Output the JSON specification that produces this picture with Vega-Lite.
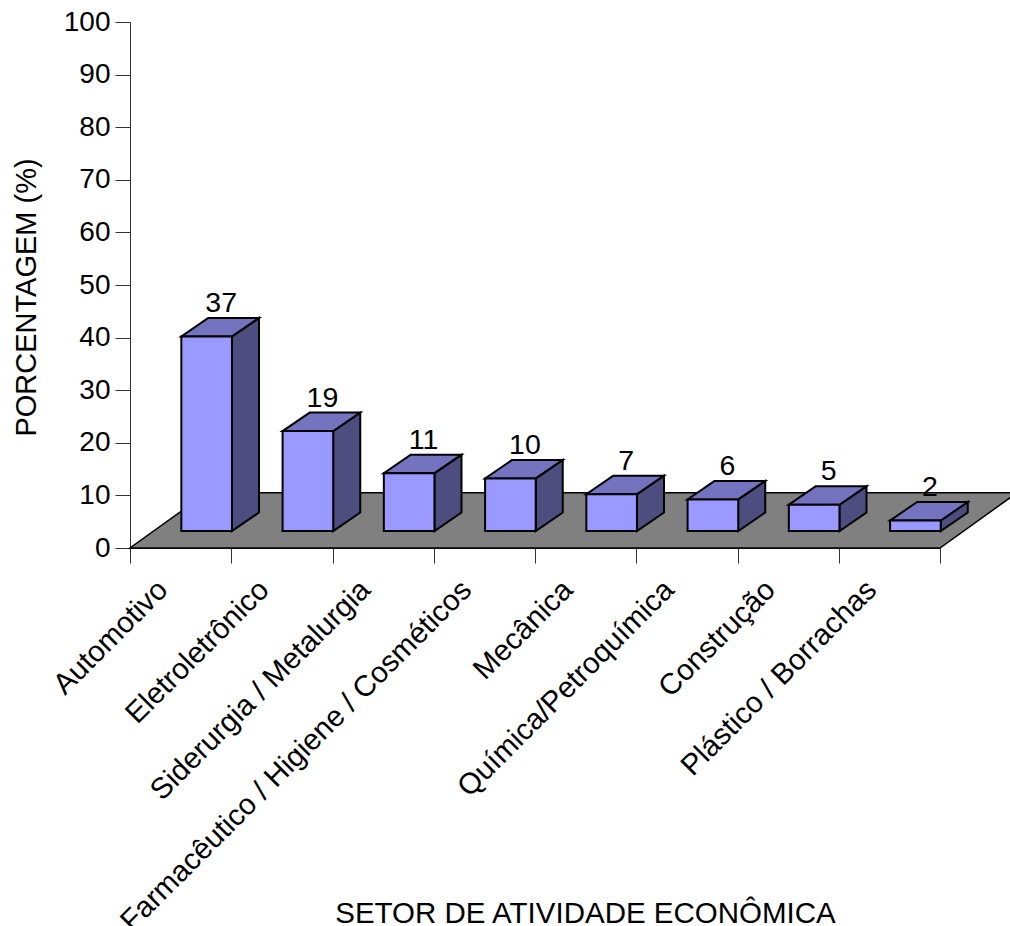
{
  "$schema": "https://vega.github.io/schema/vega-lite/v6.json",
  "width": 810,
  "height": 526,
  "autosize": "none",
  "padding": {"left": 130, "top": 22, "right": 70, "bottom": 378},
  "background": "white",
  "config": {"view": {"stroke": null}, "font": "Liberation Sans"},
  "datasets": {
    "setores": [
      {"setor": "Automotivo", "ordem": 0, "valor": 37},
      {"setor": "Eletroletrônico", "ordem": 1, "valor": 19},
      {"setor": "Siderurgia / Metalurgia", "ordem": 2, "valor": 11},
      {"setor": "Farmacêutico / Higiene / Cosméticos", "ordem": 3, "valor": 10},
      {"setor": "Mecânica", "ordem": 4, "valor": 7},
      {"setor": "Química/Petroquímica", "ordem": 5, "valor": 6},
      {"setor": "Construção", "ordem": 6, "valor": 5},
      {"setor": "Plástico / Borrachas", "ordem": 7, "valor": 2}
    ],
    "piso": [
      {"nivel": 0, "inicio": 0, "fim": 8},
      {"nivel": 10.5, "inicio": 0.76, "fim": 8.76}
    ]
  },
  "resolve": {"scale": {"x": "independent"}, "axis": {"y": "independent"}},
  "layer": [
    {
      "description": "Invisible bars that carry the category and value axes",
      "data": {"name": "setores"},
      "mark": {"type": "bar", "opacity": 0},
      "encoding": {
        "x": {
          "field": "setor", "type": "nominal", "sort": null,
          "scale": {"paddingInner": 0, "paddingOuter": 0},
          "axis": {
            "title": "SETOR DE ATIVIDADE ECONÔMICA",
            "titleFontSize": 29.5, "titleFontWeight": "normal", "titleColor": "#000000",
            "titleX": 455, "titleY": 374, "titleAnchor": "middle", "titleBaseline": "alphabetic",
            "labelAngle": -45, "labelAlign": "right", "labelBaseline": "top",
            "labelFontSize": 29.5, "labelColor": "#000000", "labelLimit": 900, "labelOverlap": false,
            "labelOffset": -28, "labelPadding": 12,
            "tickBand": "extent", "tickSize": 15, "tickColor": "#333333", "domainColor": "#333333", "grid": false
          }
        },
        "y": {
          "field": "valor", "type": "quantitative",
          "scale": {"domain": [0, 100], "nice": false},
          "axis": {
            "title": "PORCENTAGEM (%)",
            "titleFontSize": 29, "titleFontWeight": "normal", "titleColor": "#000000",
            "titleX": -89, "titleY": 275, "titleAnchor": "middle",
            "values": [0, 10, 20, 30, 40, 50, 60, 70, 80, 90, 100],
            "labelFontSize": 28, "labelColor": "#000000", "labelPadding": 5,
            "tickSize": 15, "tickColor": "#333333", "domainColor": "#333333", "grid": false
          }
        }
      }
    },
    {
      "description": "Floor of the 3D plot",
      "data": {"name": "piso"},
      "mark": {"type": "area", "orient": "horizontal", "fill": "#808080", "stroke": "#000000", "strokeWidth": 1.5},
      "encoding": {
        "y": {"field": "nivel", "type": "quantitative", "scale": {"domain": [0, 100], "nice": false}, "axis": null},
        "x": {"field": "inicio", "type": "quantitative", "scale": {"domain": [0, 8]}, "axis": null},
        "x2": {"field": "fim"}
      }
    },
    {
      "description": "Right-hand face of each bar",
      "data": {"name": "setores"},
      "transform": [
        {"calculate": "[0, 1]", "as": "lado"},
        {"flatten": ["lado"]},
        {"calculate": "datum.ordem + 1.007 + datum.lado * 0.267", "as": "xa"},
        {"calculate": "3.23 + datum.lado * 3.52", "as": "base"},
        {"calculate": "datum.base + datum.valor", "as": "topo"}
      ],
      "mark": {"type": "area", "fill": "#4D4D80", "stroke": "#000000", "strokeWidth": 2, "strokeJoin": "miter"},
      "encoding": {
        "x": {"field": "xa", "type": "quantitative", "scale": {"domain": [0, 8]}, "axis": null},
        "y": {"field": "topo", "type": "quantitative", "scale": {"domain": [0, 100], "nice": false}, "axis": null},
        "y2": {"field": "base"},
        "detail": {"field": "setor"}
      }
    },
    {
      "description": "Top face of each bar",
      "data": {"name": "setores"},
      "transform": [
        {"calculate": "[0, 1]", "as": "lado"},
        {"flatten": ["lado"]},
        {"calculate": "datum.ordem + 0.507 + datum.lado * 0.267", "as": "xa"},
        {"calculate": "datum.xa + 0.5", "as": "xb"},
        {"calculate": "datum.valor + 3.23 + datum.lado * 3.52", "as": "topo"}
      ],
      "mark": {"type": "area", "orient": "horizontal", "fill": "#7373BF", "stroke": "#000000", "strokeWidth": 2, "strokeJoin": "miter"},
      "encoding": {
        "y": {"field": "topo", "type": "quantitative", "scale": {"domain": [0, 100], "nice": false}, "axis": null},
        "x": {"field": "xa", "type": "quantitative", "scale": {"domain": [0, 8]}, "axis": null},
        "x2": {"field": "xb"},
        "detail": {"field": "setor"}
      }
    },
    {
      "description": "Front face of each bar",
      "data": {"name": "setores"},
      "transform": [
        {"calculate": "datum.ordem + 0.507", "as": "xa"},
        {"calculate": "datum.ordem + 1.007", "as": "xb"},
        {"calculate": "datum.valor + 3.23", "as": "topo"},
        {"calculate": "3.23", "as": "base"}
      ],
      "mark": {"type": "rect", "fill": "#9999FF", "stroke": "#000000", "strokeWidth": 2},
      "encoding": {
        "x": {"field": "xa", "type": "quantitative", "scale": {"domain": [0, 8]}, "axis": null},
        "x2": {"field": "xb"},
        "y": {"field": "topo", "type": "quantitative", "scale": {"domain": [0, 100], "nice": false}, "axis": null},
        "y2": {"field": "base"}
      }
    },
    {
      "description": "Value labels above the bars",
      "data": {"name": "setores"},
      "transform": [
        {"calculate": "datum.ordem + 0.9", "as": "xa"},
        {"calculate": "datum.valor + 3.23 + 3.52", "as": "topo"}
      ],
      "mark": {"type": "text", "fontSize": 28.5, "color": "#000000", "align": "center", "baseline": "alphabetic", "dy": -6},
      "encoding": {
        "x": {"field": "xa", "type": "quantitative", "scale": {"domain": [0, 8]}, "axis": null},
        "y": {"field": "topo", "type": "quantitative", "scale": {"domain": [0, 100], "nice": false}, "axis": null},
        "text": {"field": "valor", "type": "quantitative"}
      }
    }
  ]
}
